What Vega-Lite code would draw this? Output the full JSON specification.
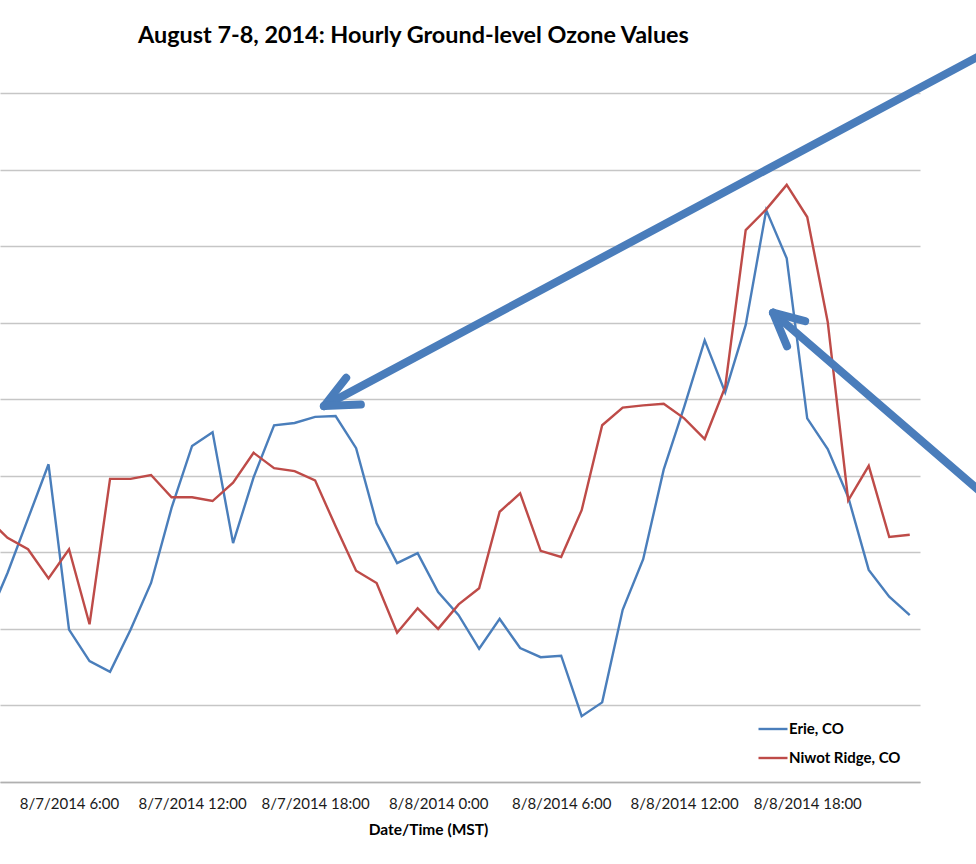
{
  "$schema": "https://vega.github.io/schema/vega-lite/v6.json",
  "autosize": {"type": "none"},
  "width": 920,
  "height": 689,
  "padding": {"left": 0, "top": 93, "right": 56, "bottom": 82},
  "background": "white",
  "title": {"text": "August 7-8, 2014: Hourly Ground-level Ozone Values", "anchor": "start", "frame": "group", "dx": 138, "font": "Lato", "fontSize": 23.4, "fontWeight": "bold", "color": "#000000", "baseline": "alphabetic", "offset": -20},
  "config": {"view": {"stroke": null}},
  "datasets": {
    "ozone": [
      {"time": "2014-08-07T02:00:00", "site": "Erie, CO", "ozone": 21.0},
      {"time": "2014-08-07T03:00:00", "site": "Erie, CO", "ozone": 27.3},
      {"time": "2014-08-07T04:00:00", "site": "Erie, CO", "ozone": 34.4},
      {"time": "2014-08-07T05:00:00", "site": "Erie, CO", "ozone": 41.5},
      {"time": "2014-08-07T06:00:00", "site": "Erie, CO", "ozone": 19.9},
      {"time": "2014-08-07T07:00:00", "site": "Erie, CO", "ozone": 15.8},
      {"time": "2014-08-07T08:00:00", "site": "Erie, CO", "ozone": 14.4},
      {"time": "2014-08-07T09:00:00", "site": "Erie, CO", "ozone": 19.9},
      {"time": "2014-08-07T10:00:00", "site": "Erie, CO", "ozone": 26.0},
      {"time": "2014-08-07T11:00:00", "site": "Erie, CO", "ozone": 35.8},
      {"time": "2014-08-07T12:00:00", "site": "Erie, CO", "ozone": 43.9},
      {"time": "2014-08-07T13:00:00", "site": "Erie, CO", "ozone": 45.7},
      {"time": "2014-08-07T14:00:00", "site": "Erie, CO", "ozone": 31.2},
      {"time": "2014-08-07T15:00:00", "site": "Erie, CO", "ozone": 39.8},
      {"time": "2014-08-07T16:00:00", "site": "Erie, CO", "ozone": 46.6},
      {"time": "2014-08-07T17:00:00", "site": "Erie, CO", "ozone": 46.9},
      {"time": "2014-08-07T18:00:00", "site": "Erie, CO", "ozone": 47.7},
      {"time": "2014-08-07T19:00:00", "site": "Erie, CO", "ozone": 47.8},
      {"time": "2014-08-07T20:00:00", "site": "Erie, CO", "ozone": 43.6},
      {"time": "2014-08-07T21:00:00", "site": "Erie, CO", "ozone": 33.8},
      {"time": "2014-08-07T22:00:00", "site": "Erie, CO", "ozone": 28.6},
      {"time": "2014-08-07T23:00:00", "site": "Erie, CO", "ozone": 29.9},
      {"time": "2014-08-08T00:00:00", "site": "Erie, CO", "ozone": 24.8},
      {"time": "2014-08-08T01:00:00", "site": "Erie, CO", "ozone": 21.8},
      {"time": "2014-08-08T02:00:00", "site": "Erie, CO", "ozone": 17.4},
      {"time": "2014-08-08T03:00:00", "site": "Erie, CO", "ozone": 21.3},
      {"time": "2014-08-08T04:00:00", "site": "Erie, CO", "ozone": 17.5},
      {"time": "2014-08-08T05:00:00", "site": "Erie, CO", "ozone": 16.3},
      {"time": "2014-08-08T06:00:00", "site": "Erie, CO", "ozone": 16.5},
      {"time": "2014-08-08T07:00:00", "site": "Erie, CO", "ozone": 8.6},
      {"time": "2014-08-08T08:00:00", "site": "Erie, CO", "ozone": 10.4},
      {"time": "2014-08-08T09:00:00", "site": "Erie, CO", "ozone": 22.5},
      {"time": "2014-08-08T10:00:00", "site": "Erie, CO", "ozone": 29.1},
      {"time": "2014-08-08T11:00:00", "site": "Erie, CO", "ozone": 40.8},
      {"time": "2014-08-08T12:00:00", "site": "Erie, CO", "ozone": 49.0},
      {"time": "2014-08-08T13:00:00", "site": "Erie, CO", "ozone": 57.7},
      {"time": "2014-08-08T14:00:00", "site": "Erie, CO", "ozone": 50.9},
      {"time": "2014-08-08T15:00:00", "site": "Erie, CO", "ozone": 59.7},
      {"time": "2014-08-08T16:00:00", "site": "Erie, CO", "ozone": 74.7},
      {"time": "2014-08-08T17:00:00", "site": "Erie, CO", "ozone": 68.4},
      {"time": "2014-08-08T18:00:00", "site": "Erie, CO", "ozone": 47.5},
      {"time": "2014-08-08T19:00:00", "site": "Erie, CO", "ozone": 43.5},
      {"time": "2014-08-08T20:00:00", "site": "Erie, CO", "ozone": 37.2},
      {"time": "2014-08-08T21:00:00", "site": "Erie, CO", "ozone": 27.7},
      {"time": "2014-08-08T22:00:00", "site": "Erie, CO", "ozone": 24.2},
      {"time": "2014-08-08T23:00:00", "site": "Erie, CO", "ozone": 21.8},
      {"time": "2014-08-07T02:00:00", "site": "Niwot Ridge, CO", "ozone": 34.5},
      {"time": "2014-08-07T03:00:00", "site": "Niwot Ridge, CO", "ozone": 31.9},
      {"time": "2014-08-07T04:00:00", "site": "Niwot Ridge, CO", "ozone": 30.4},
      {"time": "2014-08-07T05:00:00", "site": "Niwot Ridge, CO", "ozone": 26.6},
      {"time": "2014-08-07T06:00:00", "site": "Niwot Ridge, CO", "ozone": 30.4},
      {"time": "2014-08-07T07:00:00", "site": "Niwot Ridge, CO", "ozone": 20.6},
      {"time": "2014-08-07T08:00:00", "site": "Niwot Ridge, CO", "ozone": 39.6},
      {"time": "2014-08-07T09:00:00", "site": "Niwot Ridge, CO", "ozone": 39.6},
      {"time": "2014-08-07T10:00:00", "site": "Niwot Ridge, CO", "ozone": 40.1},
      {"time": "2014-08-07T11:00:00", "site": "Niwot Ridge, CO", "ozone": 37.2},
      {"time": "2014-08-07T12:00:00", "site": "Niwot Ridge, CO", "ozone": 37.2},
      {"time": "2014-08-07T13:00:00", "site": "Niwot Ridge, CO", "ozone": 36.7},
      {"time": "2014-08-07T14:00:00", "site": "Niwot Ridge, CO", "ozone": 39.1},
      {"time": "2014-08-07T15:00:00", "site": "Niwot Ridge, CO", "ozone": 43.0},
      {"time": "2014-08-07T16:00:00", "site": "Niwot Ridge, CO", "ozone": 41.0},
      {"time": "2014-08-07T17:00:00", "site": "Niwot Ridge, CO", "ozone": 40.6},
      {"time": "2014-08-07T18:00:00", "site": "Niwot Ridge, CO", "ozone": 39.4},
      {"time": "2014-08-07T19:00:00", "site": "Niwot Ridge, CO", "ozone": 33.4},
      {"time": "2014-08-07T20:00:00", "site": "Niwot Ridge, CO", "ozone": 27.6},
      {"time": "2014-08-07T21:00:00", "site": "Niwot Ridge, CO", "ozone": 26.0},
      {"time": "2014-08-07T22:00:00", "site": "Niwot Ridge, CO", "ozone": 19.5},
      {"time": "2014-08-07T23:00:00", "site": "Niwot Ridge, CO", "ozone": 22.7},
      {"time": "2014-08-08T00:00:00", "site": "Niwot Ridge, CO", "ozone": 20.0},
      {"time": "2014-08-08T01:00:00", "site": "Niwot Ridge, CO", "ozone": 23.2},
      {"time": "2014-08-08T02:00:00", "site": "Niwot Ridge, CO", "ozone": 25.3},
      {"time": "2014-08-08T03:00:00", "site": "Niwot Ridge, CO", "ozone": 35.3},
      {"time": "2014-08-08T04:00:00", "site": "Niwot Ridge, CO", "ozone": 37.7},
      {"time": "2014-08-08T05:00:00", "site": "Niwot Ridge, CO", "ozone": 30.2},
      {"time": "2014-08-08T06:00:00", "site": "Niwot Ridge, CO", "ozone": 29.4},
      {"time": "2014-08-08T07:00:00", "site": "Niwot Ridge, CO", "ozone": 35.5},
      {"time": "2014-08-08T08:00:00", "site": "Niwot Ridge, CO", "ozone": 46.6},
      {"time": "2014-08-08T09:00:00", "site": "Niwot Ridge, CO", "ozone": 48.9},
      {"time": "2014-08-08T10:00:00", "site": "Niwot Ridge, CO", "ozone": 49.2},
      {"time": "2014-08-08T11:00:00", "site": "Niwot Ridge, CO", "ozone": 49.4},
      {"time": "2014-08-08T12:00:00", "site": "Niwot Ridge, CO", "ozone": 47.5},
      {"time": "2014-08-08T13:00:00", "site": "Niwot Ridge, CO", "ozone": 44.8},
      {"time": "2014-08-08T14:00:00", "site": "Niwot Ridge, CO", "ozone": 51.6},
      {"time": "2014-08-08T15:00:00", "site": "Niwot Ridge, CO", "ozone": 72.1},
      {"time": "2014-08-08T16:00:00", "site": "Niwot Ridge, CO", "ozone": 74.8},
      {"time": "2014-08-08T17:00:00", "site": "Niwot Ridge, CO", "ozone": 78.0},
      {"time": "2014-08-08T18:00:00", "site": "Niwot Ridge, CO", "ozone": 73.8},
      {"time": "2014-08-08T19:00:00", "site": "Niwot Ridge, CO", "ozone": 60.1},
      {"time": "2014-08-08T20:00:00", "site": "Niwot Ridge, CO", "ozone": 36.8},
      {"time": "2014-08-08T21:00:00", "site": "Niwot Ridge, CO", "ozone": 41.3},
      {"time": "2014-08-08T22:00:00", "site": "Niwot Ridge, CO", "ozone": 32.0},
      {"time": "2014-08-08T23:00:00", "site": "Niwot Ridge, CO", "ozone": 32.3}
    ],
    "arrows": [
      {"t": "2014-08-07T18:26:00", "v": 49.1, "t2": "2014-08-09T02:56:00", "v2": 95.6},
      {"t": "2014-08-07T18:26:00", "v": 49.1, "t2": "2014-08-07T19:31:00", "v2": 52.8},
      {"t": "2014-08-07T18:26:00", "v": 49.1, "t2": "2014-08-07T20:14:00", "v2": 49.3},
      {"t": "2014-08-08T16:20:00", "v": 61.3, "t2": "2014-08-09T02:56:00", "v2": 36.8},
      {"t": "2014-08-08T16:20:00", "v": 61.3, "t2": "2014-08-08T17:54:00", "v2": 60.2},
      {"t": "2014-08-08T16:20:00", "v": 61.3, "t2": "2014-08-08T17:01:00", "v2": 56.9}
    ]
  },
  "layer": [
    {
      "data": {"name": "ozone"},
      "mark": {"type": "line", "strokeWidth": 2.4, "clip": true},
      "encoding": {
        "x": {
          "field": "time", "type": "temporal",
          "scale": {"domain": [{"year": 2014, "month": 8, "date": 7, "hours": 2, "minutes": 38}, {"year": 2014, "month": 8, "date": 8, "hours": 23, "minutes": 30}]},
          "axis": {
            "values": [
              {"year": 2014, "month": 8, "date": 7, "hours": 6},
              {"year": 2014, "month": 8, "date": 7, "hours": 12},
              {"year": 2014, "month": 8, "date": 7, "hours": 18},
              {"year": 2014, "month": 8, "date": 8, "hours": 0},
              {"year": 2014, "month": 8, "date": 8, "hours": 6},
              {"year": 2014, "month": 8, "date": 8, "hours": 12},
              {"year": 2014, "month": 8, "date": 8, "hours": 18}
            ],
            "labelExpr": "timeFormat(datum.value, '%-m/%-d/%Y %-H:%M')",
            "grid": false, "ticks": false, "tickSize": 0,
            "domainColor": "#b0b0b0", "domainWidth": 1.5,
            "labelFont": "Lato", "labelFontSize": 15, "labelColor": "#1a1a1a", "labelPadding": 14,
            "labelOverlap": false, "labelFlush": false,
            "title": "Date/Time (MST)", "titleFont": "Lato", "titleFontSize": 15.5, "titleFontWeight": "bold", "titleColor": "#000000",
            "titleBaseline": "alphabetic", "titleX": 428, "titleY": 52, "titleAlign": "center"
          }
        },
        "y": {
          "field": "ozone", "type": "quantitative",
          "scale": {"domain": [0, 90], "nice": false},
          "axis": {"values": [0, 10, 20, 30, 40, 50, 60, 70, 80, 90], "grid": true, "gridColor": "#c6c6c6", "gridWidth": 1.5, "labels": false, "ticks": false, "domain": false, "title": null}
        },
        "color": {
          "field": "site", "type": "nominal",
          "scale": {"domain": ["Erie, CO", "Niwot Ridge, CO"], "range": ["#4a7ebb", "#be4b48"]},
          "legend": {
            "orient": "none", "legendX": 757, "legendY": 620, "title": null, "padding": 0,
            "symbolType": "stroke", "symbolSize": 841, "symbolStrokeWidth": 2.4, "rowPadding": 5,
            "labelOffset": 0, "labelFont": "Lato", "labelFontSize": 15, "labelFontWeight": "bold", "labelColor": "#000000"
          }
        }
      }
    },
    {
      "data": {"name": "arrows"},
      "mark": {"type": "rule", "strokeWidth": 8, "color": "#4a7dbb", "strokeCap": "round", "clip": false},
      "encoding": {
        "x": {"field": "t", "type": "temporal"},
        "x2": {"field": "t2"},
        "y": {"field": "v", "type": "quantitative"},
        "y2": {"field": "v2"}
      }
    }
  ]
}
